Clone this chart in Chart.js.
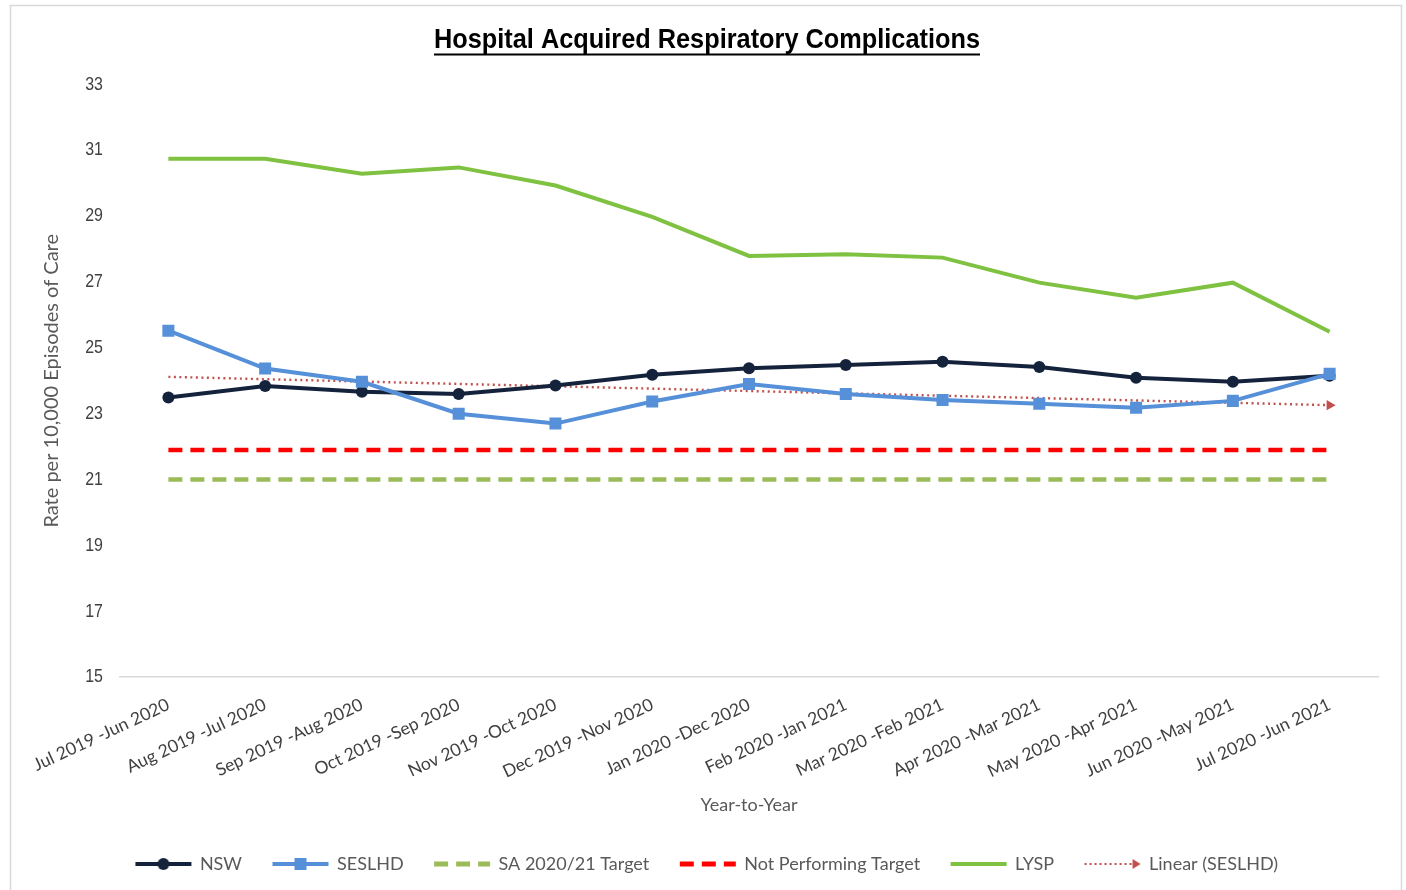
<!DOCTYPE html>
<html>
<head>
<meta charset="utf-8">
<title>Hospital Acquired Respiratory Complications</title>
<script src="https://cdn.jsdelivr.net/npm/chart.js@4.4.1/dist/chart.umd.min.js"></script>
<style>
  html, body { margin: 0; padding: 0; background: #fff; }
  #wrap { width: 1406px; height: 890px; position: relative; }
</style>
</head>
<body>
<div id="wrap"><canvas id="canvas" width="1406" height="890"></canvas></div>
<script>
// ---- data ----
var categories = ["Jul 2019 -Jun 2020", "Aug 2019 -Jul 2020", "Sep 2019 -Aug 2020", "Oct 2019 -Sep 2020",
                  "Nov 2019 -Oct 2020", "Dec 2019 -Nov 2020", "Jan 2020 -Dec 2020", "Feb 2020 -Jan 2021",
                  "Mar 2020 -Feb 2021", "Apr 2020 -Mar 2021", "May 2020 -Apr 2021", "Jun 2020 -May 2021",
                  "Jul 2020 -Jun 2021"];
var nsw      = [23.49, 23.84, 23.67, 23.6, 23.86, 24.18, 24.38, 24.48, 24.58, 24.42, 24.09, 23.97, 24.15];
var seslhd   = [25.52, 24.37, 23.97, 23.0, 22.7, 23.37, 23.9, 23.6, 23.42, 23.3, 23.18, 23.39, 24.21];
var lysp     = [30.74, 30.74, 30.29, 30.48, 29.93, 28.98, 27.79, 27.84, 27.74, 26.98, 26.52, 26.98, 25.49];
var saTarget = [21, 21, 21, 21, 21, 21, 21, 21, 21, 21, 21, 21, 21];
var notPerf  = [21.9, 21.9, 21.9, 21.9, 21.9, 21.9, 21.9, 21.9, 21.9, 21.9, 21.9, 21.9, 21.9];
// linear trend of SESLHD, only its two ends are read
var trendSeslhd = [24.12, null, null, null, null, null, null, null, null, null, null, null, 23.26];
var yMin = 15, yMax = 33, yStep = 2;
var chartTitle = 'Hospital Acquired Respiratory Complications';

var sans = '"Liberation Sans", Arial, sans-serif';
var body = 'Lato, "Open Sans", sans-serif';

// little pictures for the legend
function legendIcon(color, width, dash, marker) {
  var c = document.createElement('canvas');
  c.width = 58; c.height = 16;
  var g = c.getContext('2d');
  g.strokeStyle = color;
  g.lineWidth = width;
  g.setLineDash(dash || []);
  g.beginPath();
  g.moveTo(1, 8);
  g.lineTo(marker == 'arrow' ? 50 : 57, 8);
  g.stroke();
  g.setLineDash([]);
  g.fillStyle = color;
  if (marker == 'circle') {
    g.beginPath(); g.arc(29, 8, 6, 0, Math.PI * 2); g.fill();
  } else if (marker == 'square') {
    g.fillRect(23, 2, 12, 12);
  } else if (marker == 'arrow') {
    g.beginPath(); g.moveTo(49, 3); g.lineTo(57, 8); g.lineTo(49, 13); g.closePath(); g.fill();
  }
  return c;
}
var icons = [
  legendIcon('#14233b', 4, null, 'circle'),
  legendIcon('#5590d8', 4, null, 'square'),
  legendIcon('#9bbb59', 5, [14, 8]),
  legendIcon('#ff0000', 5, [14, 8]),
  legendIcon('#7fc241', 4),
  legendIcon('#c0504d', 2, [2, 3], 'arrow')
];

// draws text squeezed sideways, like the narrow font of the original
function narrowText(ctx, text, x, y, font, sx, align) {
  ctx.save();
  ctx.font = font;
  ctx.textBaseline = 'middle';
  ctx.textAlign = align;
  ctx.translate(x, y);
  ctx.scale(sx, 1);
  ctx.fillText(text, 0, 0);
  ctx.restore();
}

// frame, narrow title with underline, narrow y tick labels
var extras = {
  id: 'extras',
  beforeDraw: function(chart) {
    var ctx = chart.ctx;
    ctx.save();
    ctx.fillStyle = '#fff';
    ctx.fillRect(0, 0, chart.width, chart.height);
    ctx.strokeStyle = '#d9d9d9';
    ctx.lineWidth = 1.5;
    ctx.strokeRect(10.5, 5.5, 1391, 900);
    ctx.restore();
  },
  afterDraw: function(chart) {
    var ctx = chart.ctx;
    var t = chart.titleBlock;
    var cx = t.left + t.width / 2;
    var font = 'bold 27px ' + sans;
    ctx.save();
    ctx.font = font;
    var w = ctx.measureText(chartTitle).width;
    var sx = 546 / w;
    ctx.fillStyle = '#000';
    narrowText(ctx, chartTitle, cx, 41, font, sx, 'center');
    ctx.fillRect(cx - 273, 53.5, 546, 2);
    ctx.restore();

    var y = chart.scales.y;
    ctx.save();
    ctx.fillStyle = '#404040';
    y.ticks.forEach(function(tk) {
      narrowText(ctx, String(tk.value), 103, y.getPixelForValue(tk.value), '19px ' + sans, 0.84, 'right');
    });
    ctx.restore();
  }
};

var ctx = document.getElementById('canvas');
var chart = new Chart(ctx, {
  type: 'line',
  data: {
    labels: categories,
    datasets: [
      { label: 'NSW', data: nsw, borderColor: '#14233b', backgroundColor: '#14233b', borderWidth: 4,
        pointStyle: 'circle', pointRadius: 6, pointBorderWidth: 0, order: 2 },
      { label: 'SESLHD', data: seslhd, borderColor: '#5590d8', backgroundColor: '#5590d8', borderWidth: 4,
        pointStyle: 'rect', pointRadius: 8.5, pointBorderWidth: 0, order: 1 },
      { label: 'SA 2020/21 Target', data: saTarget, borderColor: '#9bbb59', borderWidth: 4.5,
        borderDash: [14, 8], pointRadius: 0, order: 5 },
      { label: 'Not Performing Target', data: notPerf, borderColor: '#ff0000', borderWidth: 4.5,
        borderDash: [14, 8], pointRadius: 0, order: 4 },
      { label: 'LYSP', data: lysp, borderColor: '#7fc241', borderWidth: 4, pointRadius: 0, order: 6 },
      { label: 'Linear (SESLHD)', data: trendSeslhd, spanGaps: true, borderColor: '#c0504d',
        backgroundColor: '#c0504d', borderWidth: 2.4, borderDash: [2, 3.5],
        pointStyle: 'triangle', pointRotation: 90, pointBorderWidth: 0,
        pointRadius: [0, 0, 0, 0, 0, 0, 0, 0, 0, 0, 0, 0, 6], order: 3 }
    ]
  },
  options: {
    responsive: false,
    animation: false,
    events: [],
    layout: { padding: { left: 36, right: 28, top: 0, bottom: 7 } },
    plugins: {
      title: {
        display: true,
        text: chartTitle,
        color: 'rgba(0,0,0,0)',
        font: { family: sans, size: 27, weight: 'bold' },
        padding: { top: 22, bottom: 30 }
      },
      legend: {
        position: 'bottom',
        labels: {
          usePointStyle: true,
          pointStyleWidth: 55,
          boxHeight: 16,
          padding: 31,
          color: '#595959',
          font: { family: body, size: 18 },
          sort: function(a, b) { return a.datasetIndex - b.datasetIndex; },
          generateLabels: function(chart) {
            var items = Chart.defaults.plugins.legend.labels.generateLabels(chart);
            items.forEach(function(it) {
              it.pointStyle = icons[it.datasetIndex];
              it.rotation = 0;
            });
            return items;
          }
        }
      },
      tooltip: { enabled: false }
    },
    scales: {
      x: {
        offset: true,
        grid: { display: false, offset: true },
        border: { display: true, color: '#d9d9d9', width: 1.5 },
        ticks: { color: '#404040', font: { family: body, size: 17.5 }, minRotation: 25, maxRotation: 25, padding: 9 },
        title: { display: true, text: 'Year-to-Year', color: '#595959', font: { family: body, size: 18 }, padding: { top: 3, bottom: 8 } }
      },
      y: {
        min: yMin,
        max: yMax,
        grid: { display: false },
        border: { display: false },
        ticks: { stepSize: yStep, color: 'rgba(0,0,0,0)', font: { family: sans, size: 19 }, padding: 16 },
        title: { display: true, text: 'Rate per 10,000 Episodes of Care', color: '#595959', font: { family: body, size: 20 } },
        afterFit: function(scale) { scale.width = 84; }
      }
    }
  },
  plugins: [extras]
});
</script>
</body>
</html>
